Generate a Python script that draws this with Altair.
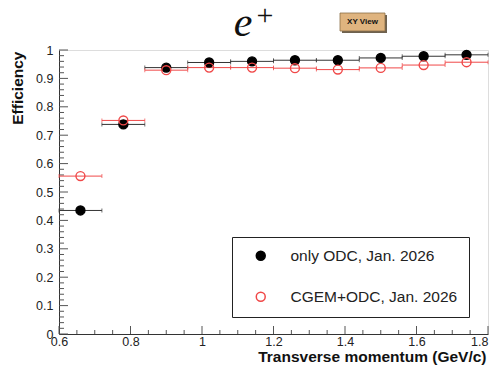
import altair as alt
import pandas as pd

# ---- data ----
bin_lo = [0.60, 0.72, 0.84, 0.96, 1.08, 1.20, 1.32, 1.44, 1.56, 1.68]
bin_hi = [0.72, 0.84, 0.96, 1.08, 1.20, 1.32, 1.44, 1.56, 1.68, 1.80]
bin_center = [0.66, 0.78, 0.90, 1.02, 1.14, 1.26, 1.38, 1.50, 1.62, 1.74]
eff_odc = [0.435, 0.738, 0.938, 0.956, 0.960, 0.964, 0.964, 0.972, 0.978, 0.983]
eff_cgem = [0.556, 0.752, 0.929, 0.938, 0.938, 0.936, 0.931, 0.937, 0.947, 0.957]
series_names = ["only ODC, Jan. 2026", "CGEM+ODC, Jan. 2026"]

x_major = [0.6, 0.8, 1.0, 1.2, 1.4, 1.6, 1.8]
x_minor = [round(0.6 + 0.05 * i, 2) for i in range(25) if i % 4]
y_major = [0.0, 0.1, 0.2, 0.3, 0.4, 0.5, 0.6, 0.7, 0.8, 0.9, 1.0]
y_minor = [round(0.02 * i, 2) for i in range(51) if i % 5]

rows = []
for name, vals in zip(series_names, [eff_odc, eff_cgem]):
    for lo, hi, c, v in zip(bin_lo, bin_hi, bin_center, vals):
        rows.append({"series": name, "lo": lo, "hi": hi, "center": c, "eff": v})
df = pd.DataFrame(rows)

FONT = "Liberation Sans"
XT = "Transverse momentum (GeV/c)"
YT = "Efficiency"
xscale = alt.Scale(domain=[0.6, 1.8], nice=False, zero=False)
yscale = alt.Scale(domain=[0, 1], nice=False, zero=False)

xaxis = alt.Axis(values=x_major, format=".1~f", grid=False, ticks=False, tickSize=0,
                 labelPadding=1.5, labelFlush=False, labelOverlap=False, labelBound=False,
                 labelAlign=alt.ExprRef(expr="datum.value >= 1.79 ? 'right' : 'center'"),
                 labelFont=FONT, labelFontSize=12.5, labelColor="#222",
                 domainColor="#333", domainWidth=1,
                 title=XT, titleFont=FONT, titleFontSize=15.5, titleFontWeight="bold",
                 titleColor="#111", titleX=427, titleY=22, titleAlign="right",
                 titleBaseline="middle", titleAnchor="end")
yaxis = alt.Axis(values=y_major, format=".1~f", grid=False, ticks=False, tickSize=0,
                 labelPadding=6, labelFlush=False, labelOverlap=False, labelBound=False,
                 labelFont=FONT, labelFontSize=12.5, labelColor="#222",
                 domainColor="#333", domainWidth=1,
                 title=YT, titleFont=FONT, titleFontSize=15.5, titleFontWeight="bold",
                 titleColor="#111", titleX=-42, titleY=1, titleAngle=270,
                 titleAlign="right", titleBaseline="middle", titleAnchor="end")


def X(field):
    return alt.X(f"{field}:Q", scale=xscale, axis=xaxis, title=XT)


def Y(field):
    return alt.Y(f"{field}:Q", scale=yscale, axis=yaxis, title=YT)


xt_major = pd.DataFrame({"t": x_major})
xt_minor = pd.DataFrame({"t": x_minor})
yt_major = pd.DataFrame({"t": y_major})
yt_minor = pd.DataFrame({"t": y_minor})

tick_col = "#555"
xmaj = alt.Chart(xt_major).mark_rule(color=tick_col, strokeWidth=1).encode(
    x=X("t"), y=alt.value(284), y2=alt.value(276))
xmin = alt.Chart(xt_minor).mark_rule(color=tick_col, strokeWidth=1).encode(
    x=X("t"), y=alt.value(284), y2=alt.value(280))
ymaj = alt.Chart(yt_major).mark_rule(color=tick_col, strokeWidth=1).encode(
    y=Y("t"), x=alt.value(0), x2=alt.value(9))
ymin = alt.Chart(yt_minor).mark_rule(color=tick_col, strokeWidth=1).encode(
    y=Y("t"), x=alt.value(0), x2=alt.value(5))

colors = {series_names[0]: "#333333", series_names[1]: "#f04848"}
layers = [xmaj, xmin, ymaj, ymin]
for name in series_names:
    base = alt.Chart(df).transform_filter(alt.datum.series == name)
    layers.append(base.mark_rule(color=colors[name], strokeWidth=1).encode(
        x=X("lo"), x2="hi", y=Y("eff")))
    layers.append(base.mark_tick(color=colors[name], thickness=1, size=4,
                                 orient="vertical").encode(x=X("lo"), y=Y("eff")))
    layers.append(base.mark_tick(color=colors[name], thickness=1, size=4,
                                 orient="vertical").encode(x=X("hi"), y=Y("eff")))

leg = alt.Legend(title=None, orient="none", legendX=173, legendY=187,
                 padding=11, strokeColor="#222", fillColor="white",
                 rowPadding=24, symbolOffset=10, labelOffset=22,
                 labelFont=FONT, labelFontSize=15.5, labelColor="#222",
                 symbolSize=80, symbolStrokeWidth=1.5, symbolType="circle",
                 labelLimit=400)
points = alt.Chart(df).mark_point(shape="circle", size=80, strokeWidth=1.4,
                                  opacity=1).encode(
    x=X("center"), y=Y("eff"),
    fill=alt.Fill("series:N", scale=alt.Scale(domain=series_names,
                                              range=["black", "transparent"]),
                  legend=leg),
    stroke=alt.Stroke("series:N", scale=alt.Scale(domain=series_names,
                                                  range=["black", "#f04848"]),
                      legend=leg),
)
layers.append(points)

one = pd.DataFrame({"a": [0]})
etext = alt.Chart(one).mark_text(text="e", font="Liberation Serif", fontStyle="italic",
                                 fontSize=42, baseline="alphabetic", align="center",
                                 color="#111").encode(
    x=alt.value(184), y=alt.value(-14))
plus = alt.Chart(one).mark_text(text="+", font="Liberation Serif", fontSize=30,
                                baseline="middle", align="center", color="#111").encode(
    x=alt.value(206), y=alt.value(-34))
shadow = alt.Chart(one).mark_rect(fill="#6e6250").encode(
    x=alt.value(283), x2=alt.value(328), y=alt.value(-35), y2=alt.value(-17))
button = alt.Chart(one).mark_rect(fill="#dfb47f", stroke="#8c7048", strokeWidth=0.8).encode(
    x=alt.value(281), x2=alt.value(326), y=alt.value(-37), y2=alt.value(-19))
btext = alt.Chart(one).mark_text(text="XY View", font=FONT, fontSize=8, fontWeight="bold",
                                 baseline="middle", align="center", color="#111").encode(
    x=alt.value(303.5), y=alt.value(-28))
layers += [etext, plus, shadow, button, btext]

chart = alt.layer(*layers).properties(
    width=429, height=284,
    autosize=alt.AutoSizeParams(type="none"),
    padding={"left": 51, "top": 42, "right": 3, "bottom": 32},
).configure_view(stroke="#8a8a8a", strokeWidth=1.5).configure(background="white")

chart.save("out.html", embed_options={"renderer": "svg", "actions": False})
